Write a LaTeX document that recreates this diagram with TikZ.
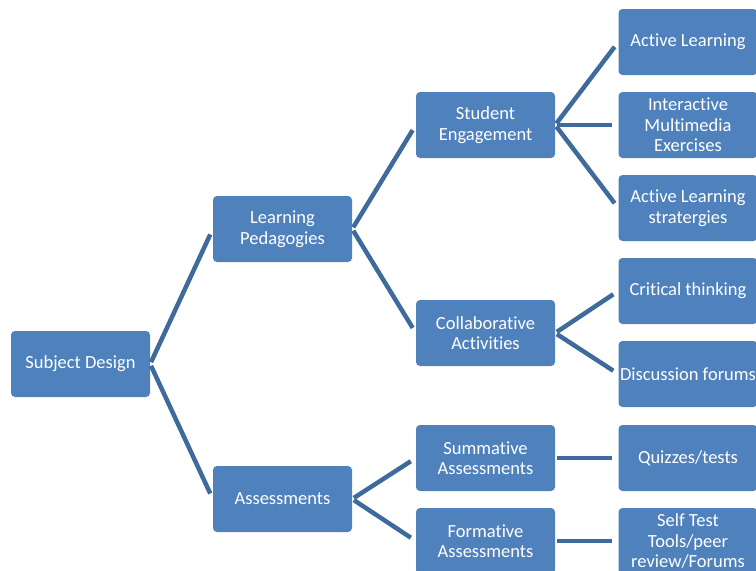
\documentclass[tikz,border=0pt]{standalone}
\usepackage{fontspec}
\setmainfont{Carlito}[Ligatures=NoCommon]
\usetikzlibrary{positioning,calc}
\definecolor{boxblue}{HTML}{4F81BD}
\definecolor{linkblue}{HTML}{3F6A9C}
\tikzset{
    topic/.style={fill=boxblue, rounded corners=4pt, text=white, align=center,
        minimum width=139pt, minimum height=66pt, inner sep=0pt,
        font=\fontsize{18.5}{20.5}\selectfont},
    link/.style={draw=linkblue, line width=4.5pt, shorten <=2pt, shorten >=6pt}
}

\begin{document}
\begin{tikzpicture}[x=1pt,y=-1pt]
    \useasboundingbox (0,0) rectangle (756,571);
    % boxes
    \node[topic] (subj) at (80.5,364) {Subject Design};
    \node[topic] (ped) at (282.5,229) {Learning\\Pedagogies};
    \node[topic] (assess) at (282.5,499) {Assessments};
    \node[topic] (eng) at (485.5,125) {Student\\Engagement};
    \node[topic] (collab) at (485.5,333) {Collaborative\\Activities};
    \node[topic] (summ) at (485.5,458) {Summative\\Assessments};
    \node[topic] (form) at (485.5,541) {Formative\\Assessments};
    \node[topic] (act) at (688,42) {Active Learning};
    \node[topic] (multi) at (688,125) {Interactive\\Multimedia\\Exercises};
    \node[topic] (strat) at (688,208) {Active Learning\\stratergies};
    \node[topic] (crit) at (688,291) {Critical thinking};
    \node[topic] (disc) at (688,374) {Discussion forums};
    \node[topic] (quiz) at (688,458) {Quizzes/tests};
    \node[topic] (selft) at (688,541) {Self Test\\Tools/peer\\review/Forums};

    \foreach \a/\b in {
        subj/ped, subj/assess,
        ped/eng, ped/collab,
        assess/summ, assess/form,
        eng/act, eng/multi, eng/strat,
        collab/crit, collab/disc,
        summ/quiz, form/selft}{
        \draw [link] (\a.east) -- (\b.west);
    }
\end{tikzpicture}
\end{document}
